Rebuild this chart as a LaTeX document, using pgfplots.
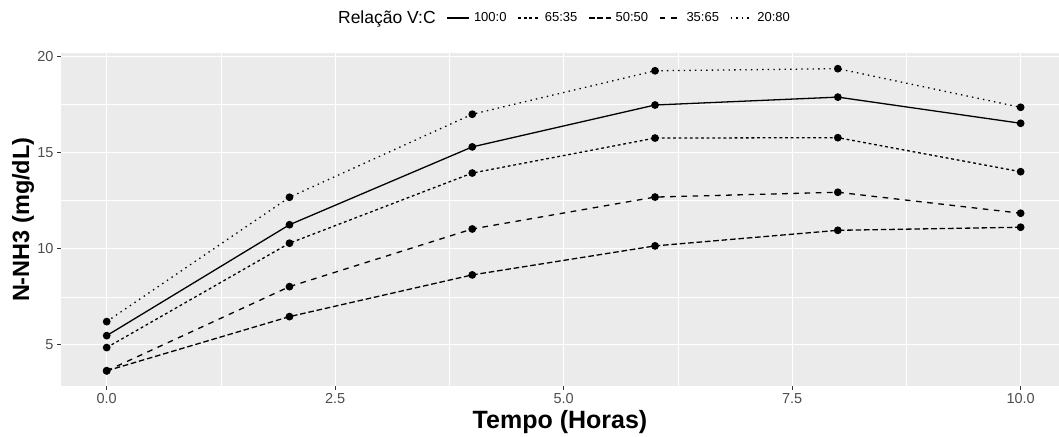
\documentclass[border=0pt]{standalone}
\usepackage{fontspec}
\setmainfont{Liberation Sans}
\usepackage{pgfplots}
\pgfplotsset{compat=1.18}
\definecolor{panel}{HTML}{EBEBEB}
\definecolor{ticklab}{HTML}{4D4D4D}
\definecolor{tickc}{HTML}{333333}
\begin{document}
\begin{tikzpicture}
\path[use as bounding box] (0,0) rectangle (1059pt,436pt);
\begin{axis}[
  at={(61pt,50pt)}, anchor=south west,
  scale only axis, width=998pt, height=332.5pt,
  xmin=-0.5, xmax=10.42, ymin=2.86, ymax=20.16,
  axis background/.style={fill=panel},
  axis line style={draw=none},
  xtick={0,2.5,5,7.5,10}, xticklabels={0.0,2.5,5.0,7.5,10.0},
  minor xtick={1.25,3.75,6.25,8.75},
  ytick={5,10,15,20}, yticklabels={5,10,15,20},
  minor ytick={7.5,12.5,17.5},
  grid=both,
  major grid style={white, line width=1.1pt},
  minor grid style={white, line width=0.55pt},
  tick align=outside, tick pos=left,
  major tick length=4pt, minor tick length=0pt,
  major tick style={tickc, line width=1.1pt},
  /pgf/number format/assume math mode=true,
  xticklabel style={font=\fontsize{14.5}{16}\selectfont, text=ticklab},
  yticklabel style={font=\fontsize{14.5}{16}\selectfont, text=ticklab},
  xlabel={\textbf{Tempo (Horas)}},
  xlabel style={font=\fontsize{25}{29}\selectfont, at={(axis description cs:0.5,-0.108)}, anchor=center},
  ylabel={\textbf{N-NH3 (mg/dL)}},
  ylabel style={font=\fontsize{23.5}{27}\selectfont, at={(axis description cs:-0.038,0.5)}, anchor=center},
  legend style={at={(axis description cs:0.504,1.107)}, anchor=center, draw=none, fill=none,
    font=\fontsize{13}{15}\selectfont, /tikz/every even column/.append style={column sep=7pt},
    nodes={inner xsep=4pt}},
  legend columns=6,
  legend image code/.code={\draw[#1] (0pt,0pt) -- (22pt,0pt);},
  every axis plot/.append style={black, line width=1.3pt, mark=*, mark size=3.2pt, mark options={solid}},
]
\addlegendimage{empty legend}
\addlegendentry{\fontsize{17.5}{20}\selectfont Relação V:C}
\addplot[solid] coordinates {(0,5.48)(2,11.25)(4,15.3)(6,17.48)(8,17.89)(10,16.53)};
\addlegendentry{100:0}
\addplot[dash pattern=on 2.8pt off 2.8pt] coordinates {(0,4.86)(2,10.29)(4,13.94)(6,15.76)(8,15.78)(10,14.01)};
\addlegendentry{65:35}
\addplot[dash pattern=on 5.6pt off 2.8pt] coordinates {(0,3.65)(2,6.47)(4,8.64)(6,10.15)(8,10.96)(10,11.12)};
\addlegendentry{50:50}
\addplot[dash pattern=on 5.6pt off 5.6pt] coordinates {(0,3.65)(2,8.03)(4,11.03)(6,12.69)(8,12.94)(10,11.85)};
\addlegendentry{35:65}
\addplot[dash pattern=on 1.4pt off 4.2pt] coordinates {(0,6.21)(2,12.68)(4,17.0)(6,19.26)(8,19.37)(10,17.36)};
\addlegendentry{20:80}
\end{axis}
\end{tikzpicture}
\end{document}
